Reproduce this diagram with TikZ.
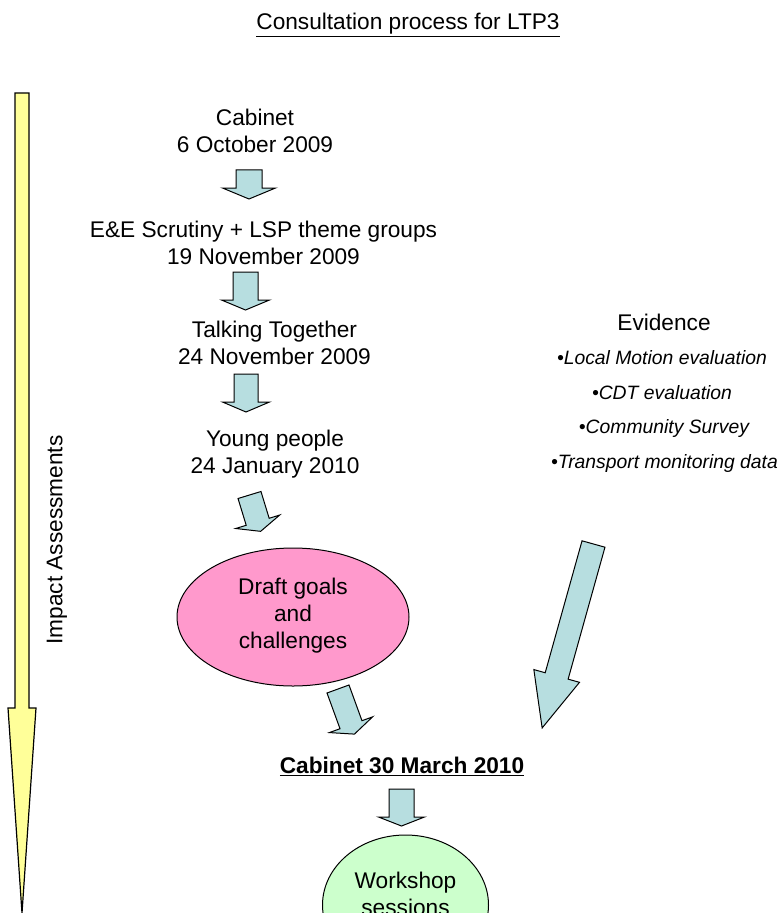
\documentclass[tikz,border=0pt]{standalone}
\usepackage{fontspec}
\setmainfont{Liberation Sans}
\usetikzlibrary{shapes.geometric}
\definecolor{arrowblue}{HTML}{B7DEE0}
\definecolor{yelfill}{HTML}{FFFF99}
\definecolor{pinkfill}{HTML}{FF99CC}
\definecolor{greenfill}{HTML}{CCFFCC}
\newcommand\blockarr[7]{%
\begin{scope}[shift={(#1,#2)},rotate=#3]
\draw[barr] (-#4,0) -- (#4,0) -- (#4,#6) -- (#5,#6) -- (0,{#6+#7}) -- (-#5,#6) -- (-#4,#6) -- cycle;
\end{scope}}
\begin{document}
\begin{tikzpicture}[x=0.75pt,y=-0.75pt,
  barr/.style={draw=black,line width=0.75pt,fill=arrowblue,line join=miter},
  main/.style={font=\fontsize{17}{20.3}\selectfont,align=center,inner sep=0pt},
  item/.style={font=\fontsize{14.5}{17}\selectfont\itshape,inner sep=0pt},
  bubble/.style={ellipse,draw=black,line width=0.75pt,inner sep=0pt}]
\useasboundingbox (0,0) rectangle (781,913);
\clip (0,0) rectangle (781,913);
% title
\node[main,anchor=base] (title) at (408,30) {\underline{Consultation process for LTP3}};
% impact assessment arrow
\draw[line width=0.9pt,fill=yelfill,line join=miter] (15,93) -- (29,93) -- (29,708) -- (36,708) -- (22,913) -- (8,708) -- (15,708) -- cycle;
\node[main,rotate=90] (impact) at (57,540) {Impact Assessments};
% steps
\node[main] (cab1) at (255,130.5) {Cabinet\\6 October 2009};
\node[main] (scrut) at (263.5,242.5) {E\&E Scrutiny + LSP theme groups\\19 November 2009};
\node[main] (talk) at (274.5,342.5) {Talking Together\\24 November 2009};
\node[main] (young) at (275,454) {Young people\\24 January 2010};
\node[bubble,fill=pinkfill,minimum width=174pt,minimum height=103.5pt] (draft) at (293,617) {};
\node[main] (drafttext) at (293,616) {Draft goals\\and\\challenges};
\node[main,font=\fontsize{17}{20.3}\selectfont\bfseries,anchor=base] (cab2) at (402,773) {\underline{Cabinet 30 March 2010}};
\node[bubble,fill=greenfill,minimum width=124.5pt,minimum height=105pt] (ws) at (405.5,905) {};
\node[main] (wstext) at (405.5,893.5) {Workshop\\sessions};
% evidence
\node[main] (evid) at (664,322) {Evidence};
\node[item] (ev1) at (662,358) {•Local Motion evaluation};
\node[item] (ev2) at (662,393) {•CDT evaluation};
\node[item] (ev3) at (664,428) {•Community Survey};
\node[item] (ev4) at (664.5,463) {•Transport monitoring data};
% block arrows
\blockarr{249}{170}{0}{13}{26.5}{18}{11}
\blockarr{245.5}{272}{0}{12.5}{24}{28}{10}
\blockarr{246}{374}{0}{12}{23.5}{28}{10}
\blockarr{249.5}{495}{17}{12}{23}{28}{10}
\blockarr{338}{689}{20}{11.7}{23}{38}{10}
\blockarr{401.5}{789}{0}{12.5}{23}{28}{9}
\blockarr{593.5}{544}{-15.6}{11.9}{23.7}{137}{54}
\end{tikzpicture}
\end{document}
